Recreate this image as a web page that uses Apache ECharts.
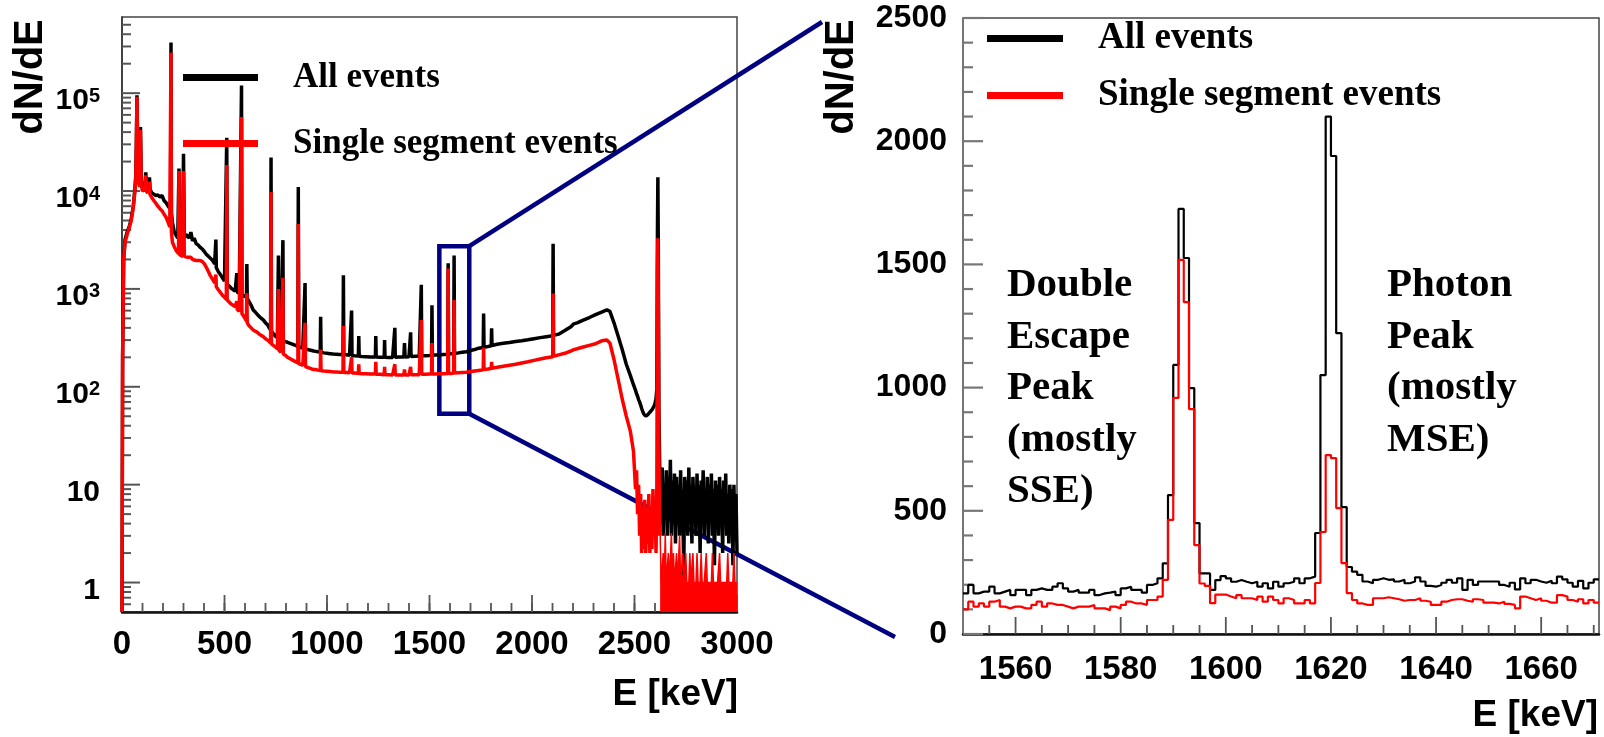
<!DOCTYPE html>
<html>
<head>
<meta charset="utf-8">
<title>dN/dE spectrum</title>
<script src="https://cdn.jsdelivr.net/npm/echarts@6/dist/echarts.min.js"></script>
<style>
  html, body { margin: 0; padding: 0; background: #fff; }
  #chart { width: 1604px; height: 737px; }
</style>
</head>
<body>
<div id="chart"></div>
<script>
// full spectrum (left panel): energy in keV, counts for all events / single segment events
const leftE = [
  0, 3, 8, 15, 25, 35, 45, 55, 62, 67,
  70, 73, 76, 80, 86, 90, 94, 100, 108, 113,
  116, 119, 125, 131, 134, 137, 145, 155, 165, 175,
  185, 195, 205, 215, 225, 233, 237, 239, 241, 246,
  255, 265, 272, 276, 278, 280, 288, 296, 300, 304,
  312, 320, 328, 336, 344, 352, 362, 372, 382, 392,
  402, 412, 422, 432, 442, 452, 456, 458, 460, 470,
  480, 490, 500, 509, 511, 513, 522, 532, 542, 552,
  558, 560, 562, 572, 581, 583, 585, 595, 607, 609,
  611, 620, 630, 640, 650, 660, 670, 680, 690, 700,
  710, 718, 725, 727, 729, 738, 748, 758, 761, 763,
  765, 775, 783, 785, 787, 797, 807, 817, 827, 837,
  847, 858, 860, 862, 872, 882, 891, 893, 895, 905,
  915, 925, 935, 945, 955, 967, 969, 971, 985, 1000,
  1015, 1030, 1045, 1060, 1078, 1080, 1082, 1095, 1110, 1118,
  1120, 1122, 1135, 1153, 1155, 1157, 1170, 1190, 1210, 1225,
  1236, 1238, 1240, 1260, 1279, 1281, 1283, 1300, 1320, 1329,
  1331, 1333, 1350, 1375, 1378, 1381, 1400, 1406, 1408, 1410,
  1430, 1450, 1458, 1460, 1462, 1480, 1500, 1510, 1512, 1514,
  1530, 1550, 1570, 1589, 1591, 1593, 1605, 1618, 1620, 1622,
  1640, 1660, 1680, 1700, 1720, 1740, 1762, 1764, 1766, 1785,
  1801, 1803, 1805, 1830, 1860, 1890, 1920, 1950, 1980, 2010,
  2040, 2070, 2101, 2103, 2105, 2130, 2160, 2190, 2204, 2220,
  2250, 2280, 2310, 2340, 2365, 2380, 2400, 2420, 2440, 2460,
  2480, 2495, 2505, 2510, 2515, 2520, 2525, 2530, 2535, 2540,
  2545, 2550, 2555, 2560, 2565, 2570, 2575, 2580, 2585, 2590,
  2595, 2600, 2605, 2609, 2612, 2614, 2616, 2619, 2623
];
const leftAll = [
  0.5, 200, 2000, 3200, 3800, 4300, 5200, 7000, 10000, 14000,
  30000, 95000, 30000, 14000, 12500, 45000, 13000, 11000, 10800, 11500,
  15500, 11000, 10500, 10800, 13800, 10400, 9600, 9300, 9000, 9100,
  8700, 9000, 8000, 7600, 7000, 6700, 6500, 330000, 6000, 4800,
  3800, 3500, 3300, 3250, 17000, 3200, 3100, 3200, 24000, 3300,
  3600, 3700, 3300, 3800, 3100, 3300, 2900, 2800, 2650, 2550,
  2400, 2250, 2150, 2050, 1950, 1800, 1750, 3200, 1650, 1500,
  1400, 1300, 1200, 1150, 35000, 1120, 1080, 1020, 980, 950,
  940, 1450, 930, 900, 890, 120000, 870, 850, 820, 1800,
  800, 740, 680, 610, 580, 550, 520, 500, 480, 450,
  430, 400, 380, 22000, 370, 350, 330, 318, 315, 2200,
  312, 305, 300, 3150, 295, 290, 285, 280, 275, 270,
  265, 258, 11000, 255, 252, 248, 245, 1150, 243, 240,
  238, 235, 232, 230, 228, 226, 520, 225, 222, 220,
  218, 216, 215, 214, 214, 1380, 213, 212, 210, 209,
  600, 208, 207, 206, 330, 205, 204, 203, 202, 202,
  201, 330, 201, 200, 200, 300, 200, 199, 199, 200,
  400, 200, 201, 202, 280, 202, 203, 203, 360, 204,
  205, 206, 206, 1100, 207, 208, 209, 210, 680, 210,
  211, 212, 214, 215, 1830, 216, 218, 219, 2200, 220,
  222, 225, 228, 235, 240, 248, 252, 560, 254, 258,
  262, 396, 264, 272, 278, 283, 290, 295, 302, 310,
  318, 325, 332, 2900, 335, 345, 375, 410, 440, 450,
  480, 510, 545, 580, 610, 590, 450, 330, 240, 170,
  130, 105, 92, 85, 80, 74, 70, 65, 60, 56,
  53, 51, 50, 50, 52, 53, 55, 56, 58, 60,
  63, 68, 75, 95, 4000, 13800, 3000, 60, 15
];
const leftSSE = [
  0.5, 200, 2000, 3000, 3600, 4200, 5000, 6800, 9500, 13000,
  28000, 92000, 28000, 12500, 11000, 42000, 11500, 10000, 9800, 10500,
  14500, 10000, 9500, 9400, 12500, 9200, 8600, 8000, 7500, 7000,
  6600, 6300, 5800, 5400, 4800, 4300, 4200, 260000, 3800, 3000,
  2700, 2450, 2350, 2300, 16000, 2250, 2200, 2150, 16000, 2150,
  2150, 2100, 2050, 2100, 2000, 2050, 1950, 1950, 1950, 1900,
  1800, 1650, 1500, 1350, 1250, 1150, 1100, 1400, 1050, 980,
  920, 860, 820, 780, 18400, 770, 740, 700, 680, 660,
  640, 750, 620, 590, 570, 57000, 560, 520, 470, 900,
  450, 420, 400, 380, 370, 360, 345, 335, 325, 310,
  300, 290, 280, 9800, 275, 265, 255, 245, 240, 1000,
  237, 225, 220, 1300, 215, 210, 200, 195, 190, 185,
  180, 175, 4600, 172, 170, 165, 162, 450, 160, 158,
  155, 152, 150, 150, 148, 147, 240, 146, 145, 144,
  143, 142, 142, 141, 141, 420, 140, 140, 139, 139,
  200, 138, 138, 137, 170, 137, 136, 136, 135, 135,
  135, 180, 134, 134, 133, 160, 133, 133, 132, 132,
  170, 132, 132, 132, 150, 132, 132, 132, 160, 133,
  133, 133, 133, 480, 134, 134, 135, 135, 280, 135,
  135, 136, 136, 137, 1620, 137, 137, 138, 770, 138,
  139, 140, 141, 143, 145, 147, 149, 250, 150, 152,
  154, 180, 155, 158, 162, 166, 170, 175, 180, 186,
  192, 198, 203, 900, 205, 212, 220, 232, 240, 245,
  255, 265, 275, 295, 300, 280, 190, 120, 75, 50,
  35, 22, 9, 14, 5, 10, 3, 8, 2, 6,
  2.2, 7, 2, 5, 2.5, 8, 2, 6, 2.2, 9,
  3, 7, 2, 10, 1500, 3300, 800, 20, 3
];

// above the 2614 keV line
const tailE = [
  2625, 2630, 2635, 2640, 2645, 2650, 2655, 2660, 2665, 2670,
  2675, 2680, 2685, 2690, 2695, 2700, 2705, 2710, 2715, 2720,
  2725, 2730, 2735, 2740, 2745, 2750, 2755, 2760, 2765, 2770,
  2775, 2780, 2785, 2790, 2795, 2800, 2805, 2810, 2815, 2820,
  2825, 2830, 2835, 2840, 2845, 2850, 2855, 2860, 2865, 2870,
  2875, 2880, 2885, 2890, 2895, 2900, 2905, 2910, 2915, 2920,
  2925, 2930, 2935, 2940, 2945, 2950, 2955, 2960, 2965, 2970,
  2975, 2980, 2985, 2990, 2995, 3000
];
const tailAll = [
  12, 4, 15, 3, 10, 5, 14, 3, 12, 6,
  18, 3, 11, 4, 13, 2.5, 12, 5, 10, 3,
  14, 4, 9, 1.2, 12, 5, 11, 3, 15, 4,
  10, 2.5, 12, 6, 9, 3, 13, 4, 10, 2,
  11, 5, 14, 3, 9, 4, 12, 2.5, 10, 5,
  13, 3, 9, 1.5, 11, 4, 10, 3, 12, 5,
  9, 2, 11, 4, 13, 3, 8, 2.5, 10, 4,
  9, 1.5, 10, 3, 8, 2
];
const tailSSE = [
  3.2, 1, 1, 2, 1, 3.2, 1, 1, 2, 1,
  1, 3.2, 1, 2, 1, 1, 2, 1, 1, 3,
  1, 1, 2, 1, 1, 2, 1, 1, 1, 2,
  1, 1, 2, 1, 1, 1, 2, 1, 1, 1,
  2, 1, 1, 1, 1, 2, 1, 1, 1, 1,
  1, 2, 1, 1, 1, 1, 1, 1, 2, 1,
  1, 1, 1, 1, 1, 1, 2, 1, 1, 1,
  1, 1, 2, 1, 1, 1
];

// zoomed window (right panel), 1 keV bins from 1550 keV
const zoomStart = 1550;
const zoomAll = [
  165, 199, 165, 172, 172, 192, 165, 172, 179, 158,
  179, 179, 158, 179, 185, 179, 179, 192, 206, 185,
  172, 179, 168, 168, 179, 158, 165, 168, 172, 158,
  185, 192, 179, 179, 168, 199, 206, 226, 287, 564,
  1092, 1725, 1526, 998, 450, 246, 246, 179, 219, 235,
  226, 212, 219, 212, 206, 212, 192, 206, 185, 212,
  192, 206, 212, 226, 206, 226, 233, 410, 1051, 2100,
  1940, 1221, 515, 272, 253, 240, 213, 206, 220, 226,
  220, 222, 213, 220, 206, 213, 230, 213, 195, 192,
  199, 208, 220, 208, 226, 179, 220, 199, 213, 213,
  213, 213, 199, 192, 208, 181, 226, 206, 220, 213,
  208, 216, 206, 233, 222, 208, 192, 216, 185, 208,
  222
];
const zoomSSE = [
  100, 131, 111, 124, 111, 131, 138, 111, 104, 111,
  111, 104, 104, 118, 131, 111, 124, 118, 118, 111,
  104, 111, 111, 111, 118, 104, 104, 97, 111, 104,
  118, 131, 124, 124, 118, 138, 138, 152, 220, 463,
  958, 1518, 1347, 913, 361, 205, 195, 125, 160, 160,
  152, 145, 158, 145, 145, 138, 152, 131, 152, 138,
  124, 145, 138, 124, 124, 138, 124, 207, 414, 726,
  714, 511, 288, 166, 138, 124, 118, 118, 145, 145,
  149, 145, 141, 135, 138, 138, 145, 135, 131, 118,
  118, 131, 138, 141, 141, 135, 131, 141, 138, 127,
  127, 124, 131, 122, 118, 104, 152, 145, 138, 145,
  135, 127, 127, 158, 152, 138, 131, 141, 124, 138,
  127
];

// axis ranges and ticks
const leftX = [0, 3000];
const leftY = [0.5, 6e5];
const zoomX = [zoomStart, zoomStart + zoomAll.length];
const zoomY = [0, 2500];
const leftMajorX = [0, 500, 1000, 1500, 2000, 2500, 3000];
const leftMinorX = [];
for (let e = 100; e < 3000; e += 100) leftMinorX.push(e);
const logMajor = [1, 10, 100, 1000, 10000, 100000];
const logMinor = [0.6, 0.7, 0.8, 0.9];
logMajor.forEach(d => { for (let k = 2; k <= 9; k++) if (k * d < leftY[1]) logMinor.push(k * d); });
const zoomMajorX = [1560, 1580, 1600, 1620, 1640, 1660];
const zoomMinorX = [1555, 1565, 1570, 1575, 1585, 1590, 1595, 1605, 1610,
  1615, 1625, 1630, 1635, 1645, 1650, 1655, 1665, 1670];
const zoomMajorY = [0, 500, 1000, 1500, 2000, 2500];
const zoomMinorY = [];
for (let c = 100; c < 2500; c += 100) if (c % 500) zoomMinorY.push(c);

// window shown on the right, drawn as a box on the left panel: [keV, counts]
const zoomBox = [[1548, 53], [1694, 2730]];

const seriesNames = ['All events', 'Single segment events'];

const pairs = (xs, ys) => xs.map((x, i) => [x, ys[i]]);
const bins = (start, counts) =>
  counts.map((c, i) => [start + i, c]).concat([[start + counts.length, counts[counts.length - 1]]]);

const sans = 'Liberation Sans';
const serif = 'Liberation Serif';
const plain = v => String(v);
const tickLabel = size => ({ fontFamily: sans, fontWeight: 'bold', fontSize: size, color: '#000' });

// inside tick marks, placed through the axis scales
function ticks(gi, values, onX, base, len, color, width) {
  return {
    type: 'custom', xAxisIndex: gi, yAxisIndex: gi, silent: true, clip: false, z: 3,
    data: values.map(v => onX ? [v, base] : [base, v]),
    renderItem: (params, api) => {
      const p = api.coord([api.value(0), api.value(1)]);
      const q = onX ? [p[0], p[1] - len] : [p[0] + len, p[1]];
      return {
        type: 'line',
        shape: { x1: p[0], y1: p[1], x2: q[0], y2: q[1] },
        style: { stroke: color, lineWidth: width }
      };
    }
  };
}

const chart = echarts.init(document.getElementById('chart'));

chart.setOption({
  animation: false,
  backgroundColor: '#fff',
  grid: [
    { left: 122, top: 17, width: 615, height: 595, show: true, borderColor: '#444', borderWidth: 1.5, outerBoundsMode: 'none' },
    { left: 963, top: 18, width: 636, height: 616, show: true, borderColor: '#444', borderWidth: 1.5, outerBoundsMode: 'none' }
  ],
  legend: [
    {
      left: 183, top: 60, orient: 'vertical', padding: 0, itemWidth: 75, itemHeight: 7, itemGap: 31,
      selectedMode: false,
      data: seriesNames.map(n => ({ name: n, icon: 'rect' })),
      textStyle: { fontFamily: serif, fontWeight: 'bold', fontSize: 35, color: '#000', padding: [8, 0, 0, 30] }
    },
    {
      left: 987, top: 20, orient: 'vertical', padding: 0, itemWidth: 76, itemHeight: 7, itemGap: 20,
      selectedMode: false,
      data: seriesNames.map(n => ({ name: n, icon: 'rect' })),
      textStyle: { fontFamily: serif, fontWeight: 'bold', fontSize: 37, color: '#000', padding: [8, 0, 0, 30] }
    }
  ],
  xAxis: [
    {
      gridIndex: 0, type: 'value', position: 'bottom', min: leftX[0], max: leftX[1], interval: 500,
      axisLine: { show: true, onZero: false, lineStyle: { color: '#111', width: 2.5 } },
      axisTick: { show: false },
      axisLabel: Object.assign({ margin: 16, formatter: plain }, tickLabel(33)),
      splitLine: { show: false }
    },
    {
      gridIndex: 1, type: 'value', position: 'bottom', min: zoomX[0], max: zoomX[1],
      axisLine: { show: true, onZero: false, lineStyle: { color: '#111', width: 2.5 } },
      axisTick: { show: false },
      axisLabel: Object.assign({ margin: 19, customValues: zoomMajorX, formatter: plain }, tickLabel(33)),
      splitLine: { show: false }
    }
  ],
  yAxis: [
    {
      gridIndex: 0, type: 'log', logBase: 10, position: 'left', min: leftY[0], max: leftY[1],
      axisLine: { show: true, onZero: false, lineStyle: { color: '#333', width: 1.5 } },
      axisTick: { show: false },
      axisLabel: {
        customValues: logMajor,
        margin: 22,
        padding: [16, 0, 0, 0],
        formatter: v => {
          const p = Math.round(Math.log10(v));
          return p < 2 ? '{b|' + v + '}' : '{b|10}{s|' + p + '}';
        },
        rich: {
          b: tickLabel(30),
          s: Object.assign({ verticalAlign: 'top' }, tickLabel(20))
        }
      },
      splitLine: { show: false }
    },
    {
      gridIndex: 1, type: 'value', position: 'left', min: zoomY[0], max: zoomY[1], interval: 500,
      axisLine: { show: true, onZero: false, lineStyle: { color: '#777', width: 1.5 } },
      axisTick: { show: false },
      axisLabel: Object.assign({ margin: 16, padding: [8, 0, 0, 0], formatter: plain }, tickLabel(32)),
      splitLine: { show: false }
    }
  ],
  series: [
    ticks(0, leftMajorX, true, leftY[0], 17, '#555', 1.8),
    ticks(0, leftMinorX, true, leftY[0], 9, '#555', 1.8),
    ticks(0, logMajor, false, leftX[0], 18, '#555', 2),
    ticks(0, logMinor, false, leftX[0], 9, '#555', 2),
    ticks(1, zoomMajorX, true, zoomY[0], 17, '#555', 1.8),
    ticks(1, zoomMinorX, true, zoomY[0], 9, '#555', 1.8),
    ticks(1, zoomMajorY, false, zoomX[0], 20, '#777', 2.2),
    ticks(1, zoomMinorY, false, zoomX[0], 10, '#777', 2.2),
    {
      name: seriesNames[0], type: 'line', xAxisIndex: 0, yAxisIndex: 0,
      data: pairs(leftE, leftAll).concat(pairs(tailE, tailAll)),
      showSymbol: false, color: '#000',
      lineStyle: { color: '#000', width: 3.5 }
    },
    {
      name: seriesNames[1], type: 'line', xAxisIndex: 0, yAxisIndex: 0,
      data: pairs(leftE, leftSSE),
      showSymbol: false, color: '#ff0000',
      lineStyle: { color: '#ff0000', width: 3.5 }
    },
    {
      name: seriesNames[1], type: 'line', xAxisIndex: 0, yAxisIndex: 0,
      data: pairs(tailE, tailSSE),
      showSymbol: false, color: '#ff0000',
      lineStyle: { color: '#ff0000', width: 1.5 },
      areaStyle: { color: '#ff0000', opacity: 1, origin: 'start' }
    },
    {
      name: seriesNames[0], type: 'line', xAxisIndex: 1, yAxisIndex: 1,
      data: bins(zoomStart, zoomAll), step: 'end',
      showSymbol: false, color: '#000',
      lineStyle: { color: '#000', width: 2.2 }
    },
    {
      name: seriesNames[1], type: 'line', xAxisIndex: 1, yAxisIndex: 1,
      data: bins(zoomStart, zoomSSE), step: 'end',
      showSymbol: false, color: '#ff0000',
      lineStyle: { color: '#ff0000', width: 2.2 }
    }
  ]
});

// box around the zoomed window and the two connector lines
const finder = { xAxisIndex: 0, yAxisIndex: 0 };
const boxTL = chart.convertToPixel(finder, [zoomBox[0][0], zoomBox[1][1]]);
const boxBR = chart.convertToPixel(finder, [zoomBox[1][0], zoomBox[0][1]]);
const navy = '#000080';

const textEl = (x, y, text, font, align, vAlign, extra) => Object.assign({
  type: 'text', x: x, y: y,
  style: {
    text: text, font: font, fill: '#000',
    align: align, verticalAlign: vAlign, textAlign: align, textVerticalAlign: vAlign
  }
}, extra || {});

chart.setOption({
  graphic: [
    textEl(31, 77, 'dN/dE', 'bold 40px "Liberation Sans"', 'center', 'middle', { rotation: Math.PI / 2 }),
    textEl(842, 77, 'dN/dE', 'bold 40px "Liberation Sans"', 'center', 'middle', { rotation: Math.PI / 2 }),
    textEl(738, 695, 'E [keV]', 'bold 37px "Liberation Sans"', 'right', 'middle'),
    textEl(1598, 716, 'E [keV]', 'bold 37px "Liberation Sans"', 'right', 'middle'),
    {
      type: 'text', x: 1007, y: 260,
      style: { text: 'Double\nEscape\nPeak\n(mostly\nSSE)', font: 'bold 41px "Liberation Serif"', lineHeight: 51.5, fill: '#000', align: 'left', verticalAlign: 'top' }
    },
    {
      type: 'text', x: 1387, y: 260,
      style: { text: 'Photon\nPeak\n(mostly\nMSE)', font: 'bold 41px "Liberation Serif"', lineHeight: 51.5, fill: '#000', align: 'left', verticalAlign: 'top' }
    },
    {
      type: 'rect',
      shape: { x: boxTL[0], y: boxTL[1], width: boxBR[0] - boxTL[0], height: boxBR[1] - boxTL[1] },
      style: { fill: 'none', stroke: navy, lineWidth: 4.5 }
    },
    {
      type: 'polyline',
      shape: { points: [[boxBR[0], boxTL[1]], [822, 22]] },
      style: { stroke: navy, lineWidth: 4.5, fill: 'none' }
    },
    {
      type: 'polyline',
      shape: { points: [[boxBR[0], boxBR[1]], [895, 637]] },
      style: { stroke: navy, lineWidth: 4.5, fill: 'none' }
    }
  ]
});
</script>
</body>
</html>
